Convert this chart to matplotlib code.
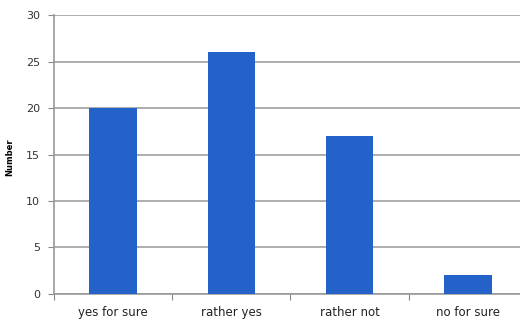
import matplotlib
matplotlib.use('Agg')
import matplotlib.pyplot as plt
import numpy as np

categories = ['yes for sure', 'rather yes', 'rather not', 'no for sure']
counts = [20, 26, 17, 2]
y_ticks = [0, 5, 10, 15, 20, 25, 30]

fig = plt.figure(figsize=(5.2, 3.25), dpi=100)
ax = fig.add_axes([0.1038, 0.0954, 0.9097, 0.8584])

x = np.arange(len(categories))
ax.bar(x, counts, width=0.4, color='#2461c9', zorder=3)

ax.set_xlim(-0.5, len(categories) - 0.5)
ax.set_ylim(0, 30)
ax.set_yticks(y_ticks)
ax.set_xticks(np.arange(-0.5, len(categories) + 0.5, 1.0))
ax.set_xticklabels([])
ax.set_xticks(x, minor=True)
ax.set_xticklabels(categories, minor=True)
ax.tick_params(axis='x', which='minor', length=0, pad=9, labelsize=8.5, labelcolor='#222222')
ax.tick_params(axis='x', which='major', length=4, color='#888888', direction='out')
ax.tick_params(axis='y', length=4, color='#888888', labelsize=8, labelcolor='#333333', pad=6)

ax.yaxis.grid(True, color='#a0a0a0', linewidth=1.2, zorder=0)
for s in ['top', 'right']:
    ax.spines[s].set_visible(False)
for s in ['left', 'bottom']:
    ax.spines[s].set_color('#999999')
    ax.spines[s].set_linewidth(1.2)

ax.set_ylabel('Number', fontsize=6, fontweight='bold')
ax.yaxis.set_label_coords(-0.083, 0.49)

fig.savefig('out.png', dpi=100)
